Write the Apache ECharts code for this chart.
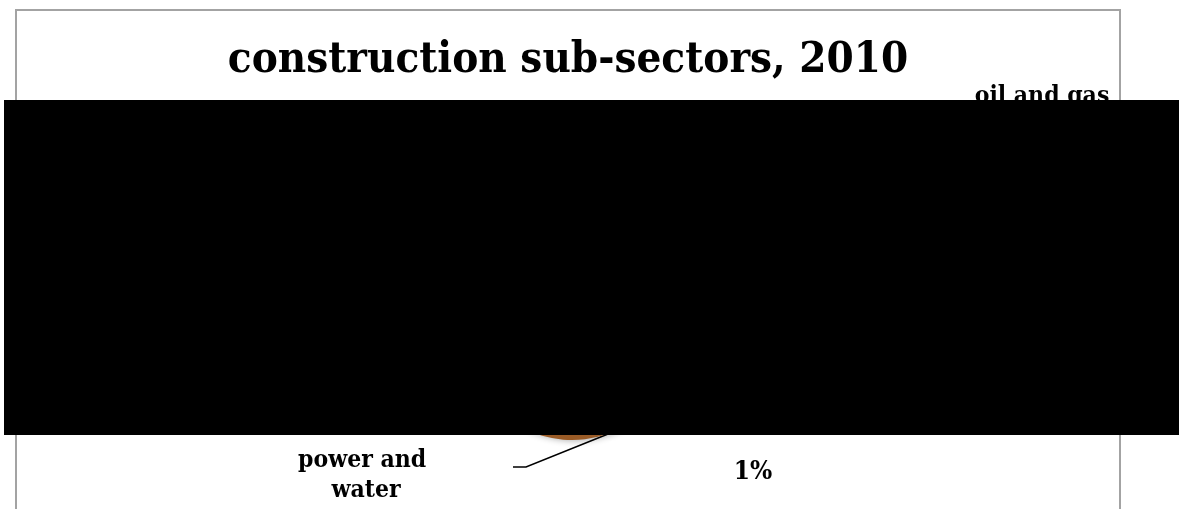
<!DOCTYPE html>
<html>
<head>
<meta charset="utf-8">
<script src="https://cdn.jsdelivr.net/npm/echarts@6/dist/echarts.min.js"></script>
<style>
  html, body { margin: 0; padding: 0; background: #ffffff; }
  #chart { width: 1179px; height: 509px; }
</style>
</head>
<body>
<div id="chart"></div>
<script>
// Construction sub-sectors, share of total (%), clockwise from the top
const sectors = ['oil and gas', 'infrastructure', 'industrial', 'power and water', 'residential', 'commercial'];
const shares = [22, 14, 8, 1, 38, 17];
const sliceColors = ['#4F81BD', '#9BBB59', '#8064A2', '#C0504D', '#9A5B26', '#4BACC6'];

// Where each slice name is placed (centre of the label)
const labelSpots = [[1042, 97], [880, 300], [760, 390], [366, 476], [330, 330], [420, 170]];
// Which slice also carries its percentage, and where
const percentShown = ['power and water'];
const percentSpots = { 'power and water': [753, 472] };

const FONT = '"DejaVu Serif Condensed", "DejaVu Serif", serif';
const chart = echarts.init(document.getElementById('chart'), null, { renderer: 'canvas' });

const nameData = sectors.map((name, i) => ({
  name: name,
  value: shares[i],
  itemStyle: { color: sliceColors[i] },
  label: name === 'power and water' ? { width: 150, overflow: 'break' } : {},
  labelLine: { show: name === 'power and water' }
}));

const pctData = sectors.map((name, i) => ({
  name: name,
  value: shares[i],
  label: { show: percentShown.indexOf(name) >= 0 }
}));

const pieBase = {
  type: 'pie',
  center: [572, 330],
  radius: 110,
  startAngle: 90,
  clockwise: true,
  percentPrecision: 0,
  avoidLabelOverlap: false,
  animation: false
};

chart.setOption({
  backgroundColor: '#ffffff',
  title: {
    text: 'construction sub-sectors, 2010',
    left: 563,
    top: 34,
    textAlign: 'center',
    textStyle: { fontFamily: FONT, fontWeight: 'bold', fontSize: 43.5, color: '#000000' }
  },
  series: [
    Object.assign({}, pieBase, {
      name: 'sectors',
      data: nameData,
      itemStyle: {
        shadowBlur: 6,
        shadowColor: 'rgba(0,0,0,0.3)',
        shadowOffsetX: 3,
        shadowOffsetY: 1
      },
      label: {
        show: true,
        position: 'outside',
        formatter: '{b}',
        fontFamily: FONT,
        fontWeight: 'bold',
        fontSize: 24.5,
        lineHeight: 30,
        color: '#000000',
        align: 'center'
      },
      labelLine: { show: false, smooth: false, lineStyle: { color: '#000000', width: 1.5 } },
      labelLayout: function (p) {
        const spot = labelSpots[p.dataIndex];
        const out = { x: spot[0], y: spot[1], align: 'center', verticalAlign: 'middle' };
        if (sectors[p.dataIndex] === 'power and water' && p.labelLinePoints) {
          const start = p.labelLinePoints[0];
          out.labelLinePoints = [start, [spot[0] + 160, spot[1] - 9], [spot[0] + 147, spot[1] - 9]];
        }
        return out;
      },
      emphasis: { disabled: true }
    }),
    Object.assign({}, pieBase, {
      name: 'percentages',
      silent: true,
      data: pctData,
      itemStyle: { color: 'rgba(0,0,0,0)' },
      label: {
        position: 'outside',
        formatter: '{d}%',
        fontFamily: FONT,
        fontWeight: 'bold',
        fontSize: 26,
        color: '#000000'
      },
      labelLine: { show: false },
      labelLayout: function (p) {
        const spot = percentSpots[sectors[p.dataIndex]] || labelSpots[p.dataIndex];
        return { x: spot[0], y: spot[1], align: 'center', verticalAlign: 'middle' };
      },
      emphasis: { disabled: true }
    })
  ],
  graphic: [
    {
      type: 'rect',
      z: 0,
      silent: true,
      shape: { x: 16, y: 10, width: 1104, height: 620 },
      style: { fill: null, stroke: '#a3a3a3', lineWidth: 2 }
    },
    {
      type: 'rect',
      z: 100,
      silent: true,
      shape: { x: 4, y: 100, width: 1175, height: 335 },
      style: { fill: '#000000' }
    }
  ]
});
</script>
</body>
</html>
